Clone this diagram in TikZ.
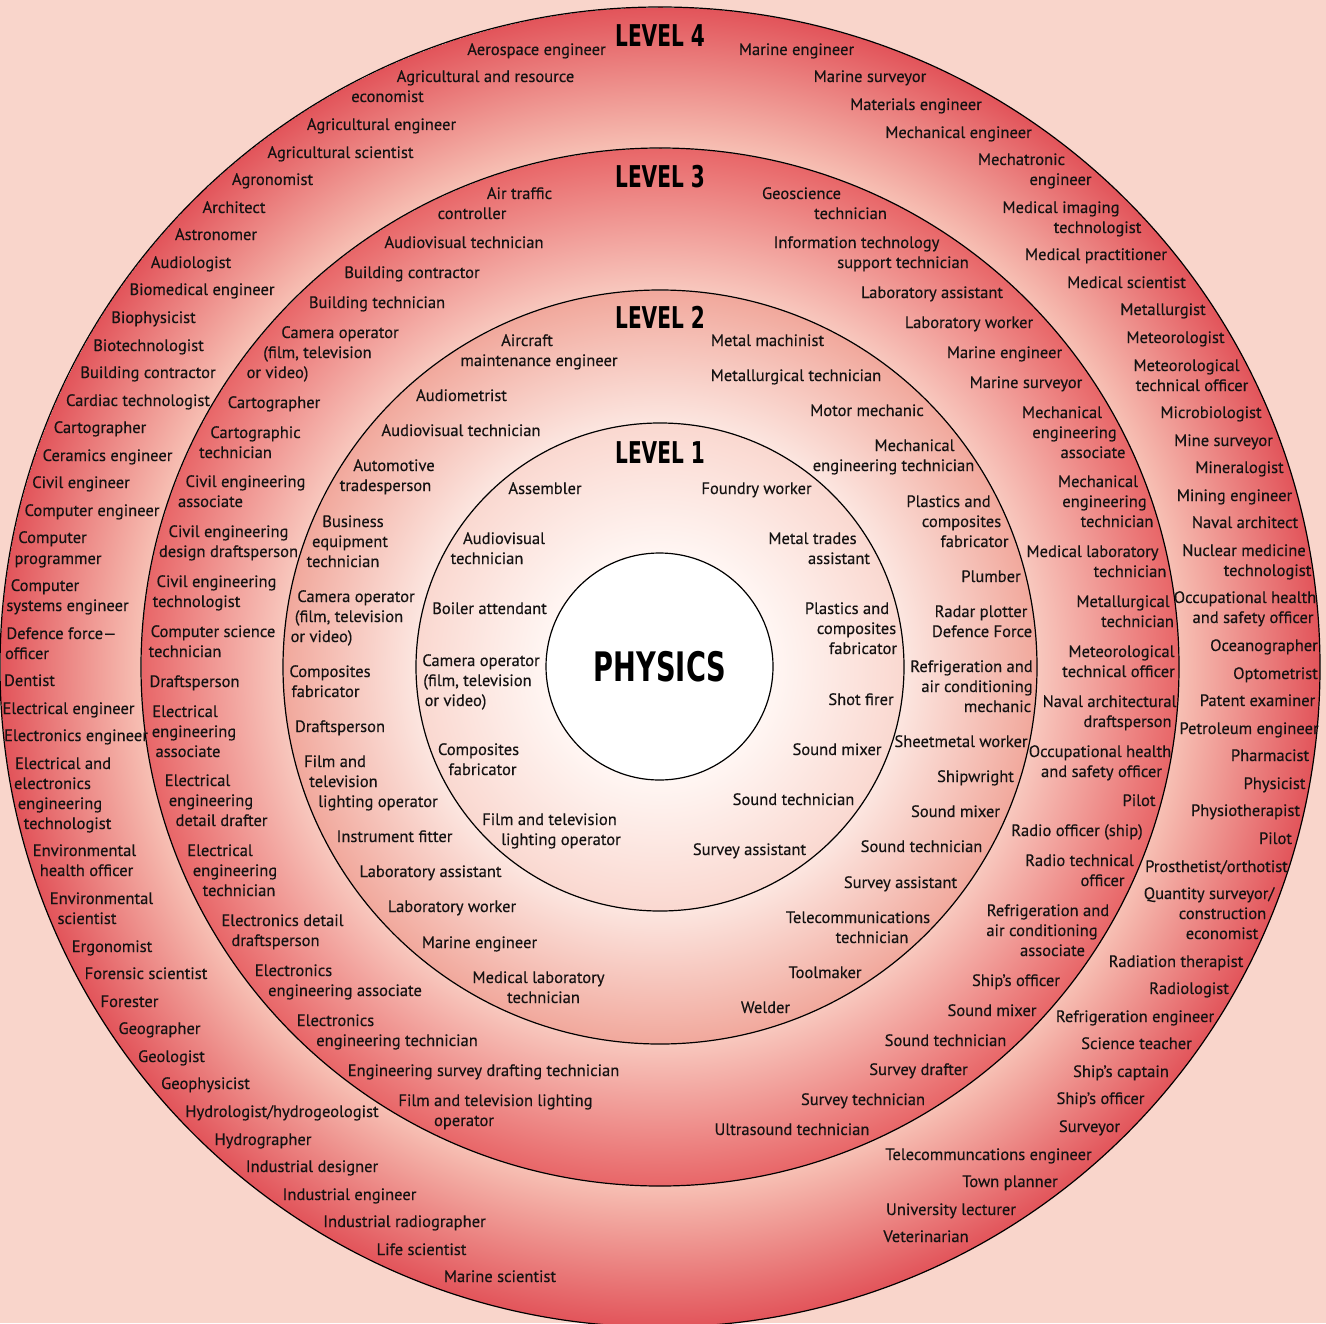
\documentclass[tikz,border=0pt]{standalone}
\usepackage{fontspec}
\setmainfont{PT Sans}[FakeBold=0.3]
\newfontfamily\lvlfont{DejaVu Sans}[FakeStretch=0.67]
\definecolor{bgpink}{RGB}{249,213,203}
\definecolor{cfouro}{RGB}{226,84,90}
\definecolor{cfouri}{RGB}{247,192,180}
\definecolor{cthreeo}{RGB}{232,102,104}
\definecolor{cthreei}{RGB}{248,200,190}
\definecolor{ctwoo}{RGB}{241,168,156}
\definecolor{ctwoi}{RGB}{252,230,224}
\definecolor{coneo}{RGB}{250,216,208}
\definecolor{conei}{RGB}{255,246,243}
\definecolor{txt}{RGB}{20,18,18}
\pgfdeclareradialshading{shfour}{\pgfpointorigin}{color(0pt)=(cfouri); color(389.25pt)=(cfouri); color(495pt)=(cfouro)}
\pgfdeclareradialshading{shthree}{\pgfpointorigin}{color(0pt)=(cthreei); color(282.75pt)=(cthreei); color(389.25pt)=(cthreeo)}
\pgfdeclareradialshading{shtwo}{\pgfpointorigin}{color(0pt)=(ctwoi); color(183pt)=(ctwoi); color(282.75pt)=(ctwoo)}
\pgfdeclareradialshading{shone}{\pgfpointorigin}{color(0pt)=(conei); color(85.125pt)=(conei); color(183pt)=(coneo)}
\newcounter{jobn}
\newcommand\jl[4]{\stepcounter{jobn}\node[jobtext] (job\arabic{jobn}) at ({(#1+#2)/2},{#3+6}) {#4};}
\tikzset{
  jobtext/.style={font=\fontsize{12.4}{14}\selectfont, inner sep=0pt, outer sep=0pt, anchor=base, text=txt},
  lvltext/.style={font=\lvlfont\bfseries\fontsize{22.5}{24}\selectfont, inner sep=0pt, text=black},
  ringline/.style={draw=black, line width=0.9pt},
  shadenode/.style={inner sep=0pt, outer sep=0pt}
}
\begin{document}
\begin{tikzpicture}[x=0.75pt, y=-0.75pt]
\useasboundingbox (0,0) rectangle (1326,1323);
\fill[bgpink] (0,0) rectangle (1326,1323);
\coordinate (C) at (660,667);
% rings
\begin{scope}
  \clip (C) circle (660);
  \node[shadenode] (s4) at (C) {\pgfuseshading{shfour}};
\end{scope}
\draw[ringline] (C) circle (660);
\begin{scope}
  \clip (C) circle (519);
  \node[shadenode] (s3) at (C) {\pgfuseshading{shthree}};
\end{scope}
\draw[ringline] (C) circle (519);
\begin{scope}
  \clip (C) circle (377);
  \node[shadenode] (s2) at (C) {\pgfuseshading{shtwo}};
\end{scope}
\draw[ringline] (C) circle (377);
\begin{scope}
  \clip (C) circle (244);
  \node[shadenode] (s1) at (C) {\pgfuseshading{shone}};
\end{scope}
\draw[ringline] (C) circle (244);
\fill[white] (659.5,666.5) circle (113.5);
\draw[ringline] (659.5,666.5) circle (113.5);
% labels
\node[lvltext] (L4) at (660,36) {LEVEL 4};
\node[lvltext] (L3) at (660,177) {LEVEL 3};
\node[lvltext] (L2) at (660,317) {LEVEL 2};
\node[lvltext] (L1) at (660,453) {LEVEL 1};
\node[lvltext, font=\lvlfont\bfseries\fontsize{30.5}{32}\selectfont] (P) at (660,667) {PHYSICS};
% ---- Level 4 left
\jl{467}{606}{49}{Aerospace engineer}
\jl{393}{578}{76}{Agricultural and resource}
\jl{351}{424}{96}{economist}
\jl{305}{458}{124}{Agricultural engineer}
\jl{265}{416}{152}{Agricultural scientist}
\jl{231}{314}{179}{Agronomist}
\jl{201}{267}{207}{Architect}
\jl{174}{258}{234}{Astronomer}
\jl{150}{232}{262}{Audiologist}
\jl{129}{275}{289}{Biomedical engineer}
\jl{110}{197}{317}{Biophysicist}
\jl{93}{204}{345}{Biotechnologist}
\jl{78}{218}{372}{Building contractor}
\jl{64}{212}{400}{Cardiac technologist}
\jl{52}{148}{427}{Cartographer}
\jl{41}{174}{455}{Ceramics engineer}
\jl{32}{130}{482}{Civil engineer}
\jl{24}{160}{510}{Computer engineer}
\jl{17}{88}{537}{Computer}
\jl{13}{103}{558}{programmer}
\jl{10}{80}{585}{Computer}
\jl{7}{128}{605}{systems engineer}
\jl{5}{118}{633}{Defence force—}
\jl{4}{50}{653}{officer}
\jl{4}{55}{680}{Dentist}
\jl{5}{132}{708}{Electrical engineer}
\jl{7}{145}{735}{Electronics engineer}
\jl{12}{114}{763}{Electrical and}
\jl{13}{92}{783}{electronics}
\jl{18}{102}{803}{engineering}
\jl{24}{111}{823}{technologist}
\jl{32}{137}{850}{Environmental}
\jl{38}{135}{870}{health officer}
\jl{49}{154}{898}{Environmental}
\jl{57}{117}{918}{scientist}
\jl{70}{154}{946}{Ergonomist}
\jl{84}{208}{973}{Forensic scientist}
\jl{100}{159}{1001}{Forester}
\jl{118}{201}{1028}{Geographer}
\jl{138}{205}{1056}{Geologist}
\jl{161}{250}{1083}{Geophysicist}
\jl{186}{378}{1111}{Hydrologist/hydrogeologist}
\jl{213}{313}{1139}{Hydrographer}
\jl{244}{380}{1166}{Industrial designer}
\jl{281}{418}{1194}{Industrial engineer}
\jl{323}{486}{1221}{Industrial radiographer}
\jl{375}{468}{1249}{Life scientist}
\jl{442}{558}{1276}{Marine scientist}
% ---- Level 4 right
\jl{738}{855}{49}{Marine engineer}
\jl{811}{929}{76}{Marine surveyor}
\jl{849}{983}{104}{Materials engineer}
\jl{889}{1028}{132}{Mechanical engineer}
\jl{977}{1066}{159}{Mechatronic}
\jl{1030}{1091}{179}{engineer}
\jl{1001}{1121}{207}{Medical imaging}
\jl{1054}{1141}{227}{technologist}
\jl{1027}{1165}{254}{Medical practitioner}
\jl{1066}{1187}{282}{Medical scientist}
\jl{1119}{1207}{309}{Metallurgist}
\jl{1126}{1225}{337}{Meteorologist}
\jl{1133}{1240}{365}{Meteorological}
\jl{1134}{1250}{385}{technical officer}
\jl{1159}{1263}{412}{Microbiologist}
\jl{1172}{1275}{440}{Mine surveyor}
\jl{1194}{1285}{467}{Mineralogist}
\jl{1176}{1293}{495}{Mining engineer}
\jl{1189}{1301}{522}{Naval architect}
\jl{1181}{1307}{550}{Nuclear medicine}
\jl{1224}{1311}{570}{technologist}
\jl{1177}{1313}{597}{Occupational health}
\jl{1190}{1316}{617}{and safety officer}
\jl{1210}{1318}{645}{Oceanographer}
\jl{1233}{1318}{673}{Optometrist}
\jl{1199}{1316}{700}{Patent examiner}
\jl{1184}{1314}{728}{Petroleum engineer}
\jl{1229}{1311}{755}{Pharmacist}
\jl{1243}{1306}{783}{Physicist}
\jl{1190}{1301}{810}{Physiotherapist}
\jl{1258}{1293}{838}{Pilot}
\jl{1148}{1285}{866}{Prosthetist/orthotist}
\jl{1143}{1275}{893}{Quantity surveyor/}
\jl{1178}{1267}{913}{construction}
\jl{1186}{1258}{933}{economist}
\jl{1107}{1245}{961}{Radiation therapist}
\jl{1149}{1229}{988}{Radiologist}
\jl{1058}{1212}{1016}{Refrigeration engineer}
\jl{1080}{1193}{1043}{Science teacher}
\jl{1070}{1172}{1071}{Ship’s captain}
\jl{1052}{1149}{1098}{Ship’s officer}
\jl{1057}{1122}{1126}{Surveyor}
\jl{886}{1091}{1154}{Telecommuncations engineer}
\jl{962}{1058}{1181}{Town planner}
\jl{884}{1018}{1209}{University lecturer}
\jl{881}{971}{1236}{Veterinarian}
% ---- Level 3 left
\jl{483}{556}{193}{Air traffic}
\jl{437}{507}{213}{controller}
\jl{383}{545}{242}{Audiovisual technician}
\jl{342}{482}{272}{Building contractor}
\jl{308}{446}{302}{Building technician}
\jl{279}{401}{332}{Camera operator}
\jl{262}{373}{352}{(film, television}
\jl{246}{309}{372}{or video)}
\jl{226}{322}{402}{Cartographer}
\jl{209}{302}{432}{Cartographic}
\jl{200}{271}{452}{technician}
\jl{185}{306}{481}{Civil engineering}
\jl{178}{243}{501}{associate}
\jl{168}{289}{531}{Civil engineering}
\jl{163}{294}{551}{design draftsperson}
\jl{156}{277}{581}{Civil engineering}
\jl{153}{240}{601}{technologist}
\jl{150}{276}{631}{Computer science}
\jl{149}{221}{651}{technician}
\jl{149}{240}{681}{Draftsperson}
\jl{150}{220}{711}{Electrical}
\jl{152}{236}{731}{engineering}
\jl{155}{221}{751}{associate}
\jl{163}{232}{780}{Electrical}
\jl{172}{250}{800}{engineering}
\jl{174}{269}{820}{detail drafter}
\jl{185}{255}{850}{Electrical}
\jl{193}{277}{870}{engineering}
\jl{203}{275}{890}{technician}
\jl{220}{345}{920}{Electronics detail}
\jl{231}{320}{940}{draftsperson}
\jl{254}{333}{970}{Electronics}
\jl{268}{422}{990}{engineering associate}
\jl{296}{375}{1020}{Electronics}
\jl{316}{478}{1040}{engineering technician}
\jl{353}{614}{1070}{Engineering survey drafting technician}
\jl{397}{594}{1100}{Film and television lighting}
\jl{433}{495}{1120}{operator}
% ---- Level 3 right
\jl{762}{841}{193}{Geoscience}
\jl{814}{887}{213}{technician}
\jl{772}{941}{242}{Information technology}
\jl{837}{969}{262}{support technician}
\jl{858}{1006}{292}{Laboratory assistant}
\jl{902}{1036}{322}{Laboratory worker}
\jl{946}{1063}{352}{Marine engineer}
\jl{967}{1085}{382}{Marine surveyor}
\jl{1021}{1103}{412}{Mechanical}
\jl{1033}{1116}{432}{engineering}
\jl{1060}{1126}{452}{associate}
\jl{1057}{1139}{481}{Mechanical}
\jl{1063}{1146}{501}{engineering}
\jl{1081}{1153}{521}{technician}
\jl{1024}{1161}{551}{Medical laboratory}
\jl{1094}{1166}{571}{technician}
\jl{1075}{1171}{601}{Metallurgical}
\jl{1102}{1173}{621}{technician}
\jl{1068}{1175}{651}{Meteorological}
\jl{1060}{1177}{671}{technical officer}
\jl{1044}{1175}{701}{Naval architectural}
\jl{1083}{1172}{721}{draftsperson}
\jl{1032}{1168}{751}{Occupational health}
\jl{1039}{1164}{771}{and safety officer}
\jl{1122}{1156}{800}{Pilot}
\jl{1008}{1146}{830}{Radio officer (ship)}
\jl{1024}{1135}{860}{Radio technical}
\jl{1079}{1126}{880}{officer}
\jl{985}{1111}{910}{Refrigeration and}
\jl{985}{1099}{930}{air conditioning}
\jl{1020}{1085}{950}{associate}
\jl{968}{1064}{980}{Ship’s officer}
\jl{946}{1038}{1010}{Sound mixer}
\jl{884}{1007}{1040}{Sound technician}
\jl{866}{971}{1069}{Survey drafter}
\jl{799}{927}{1099}{Survey technician}
\jl{713}{871}{1129}{Ultrasound technician}
% ---- Level 2 left
\jl{498}{556}{340}{Aircraft}
\jl{461}{617}{360}{maintenance engineer}
\jl{415}{508}{395}{Audiometrist}
\jl{380}{542}{430}{Audiovisual technician}
\jl{353}{435}{465}{Automotive}
\jl{340}{431}{485}{tradesperson}
\jl{323}{383}{521}{Business}
\jl{313}{387}{541}{equipment}
\jl{307}{379}{561}{technician}
\jl{297}{415}{596}{Camera operator}
\jl{293}{405}{616}{(film, television}
\jl{290}{353}{636}{or video)}
\jl{290}{370}{671}{Composites}
\jl{290}{361}{691}{fabricator}
\jl{294}{386}{726}{Draftsperson}
\jl{303}{367}{761}{Film and}
\jl{310}{377}{781}{television}
\jl{318}{438}{801}{lighting operator}
\jl{334}{455}{836}{Instrument fitter}
\jl{357}{504}{871}{Laboratory assistant}
\jl{385}{519}{906}{Laboratory worker}
\jl{421}{538}{942}{Marine engineer}
\jl{470}{607}{977}{Medical laboratory}
\jl{507}{580}{997}{technician}
% ---- Level 2 right
\jl{709}{826}{340}{Metal machinist}
\jl{709}{883}{375}{Metallurgical technician}
\jl{809}{925}{410}{Motor mechanic}
\jl{874}{955}{445}{Mechanical}
\jl{817}{970}{465}{engineering technician}
\jl{905}{992}{501}{Plastics and}
\jl{922}{1001}{521}{composites}
\jl{939}{1010}{541}{fabricator}
\jl{961}{1021}{576}{Plumber}
\jl{933}{1029}{611}{Radar plotter}
\jl{932}{1032}{631}{Defence Force}
\jl{908}{1035}{666}{Refrigeration and}
\jl{920}{1034}{686}{air conditioning}
\jl{964}{1031}{706}{mechanic}
\jl{897}{1025}{741}{Sheetmetal worker}
\jl{936}{1015}{776}{Shipwright}
\jl{910}{1001}{811}{Sound mixer}
\jl{860}{983}{846}{Sound technician}
\jl{842}{959}{882}{Survey assistant}
\jl{786}{930}{917}{Telecommunications}
\jl{836}{908}{937}{technician}
\jl{788}{862}{972}{Toolmaker}
\jl{740}{791}{1007}{Welder}
% ---- Level 1 left
\jl{508}{582}{488}{Assembler}
\jl{463}{545}{538}{Audiovisual}
\jl{451}{523}{558}{technician}
\jl{431}{548}{608}{Boiler attendant}
\jl{422}{540}{660}{Camera operator}
\jl{422}{533}{680}{(film, television}
\jl{424}{487}{700}{or video)}
\jl{438}{519}{749}{Composites}
\jl{447}{518}{769}{fabricator}
\jl{481}{618}{819}{Film and television}
\jl{500}{622}{839}{lighting operator}
% ---- Level 1 right
\jl{700}{813}{488}{Foundry worker}
\jl{767}{858}{538}{Metal trades}
\jl{808}{870}{558}{assistant}
\jl{804}{890}{608}{Plastics and}
\jl{817}{896}{628}{composites}
\jl{827}{899}{648}{fabricator}
\jl{826}{896}{699}{Shot firer}
\jl{791}{883}{749}{Sound mixer}
\jl{732}{855}{799}{Sound technician}
\jl{691}{808}{849}{Survey assistant}
\end{tikzpicture}
\end{document}
